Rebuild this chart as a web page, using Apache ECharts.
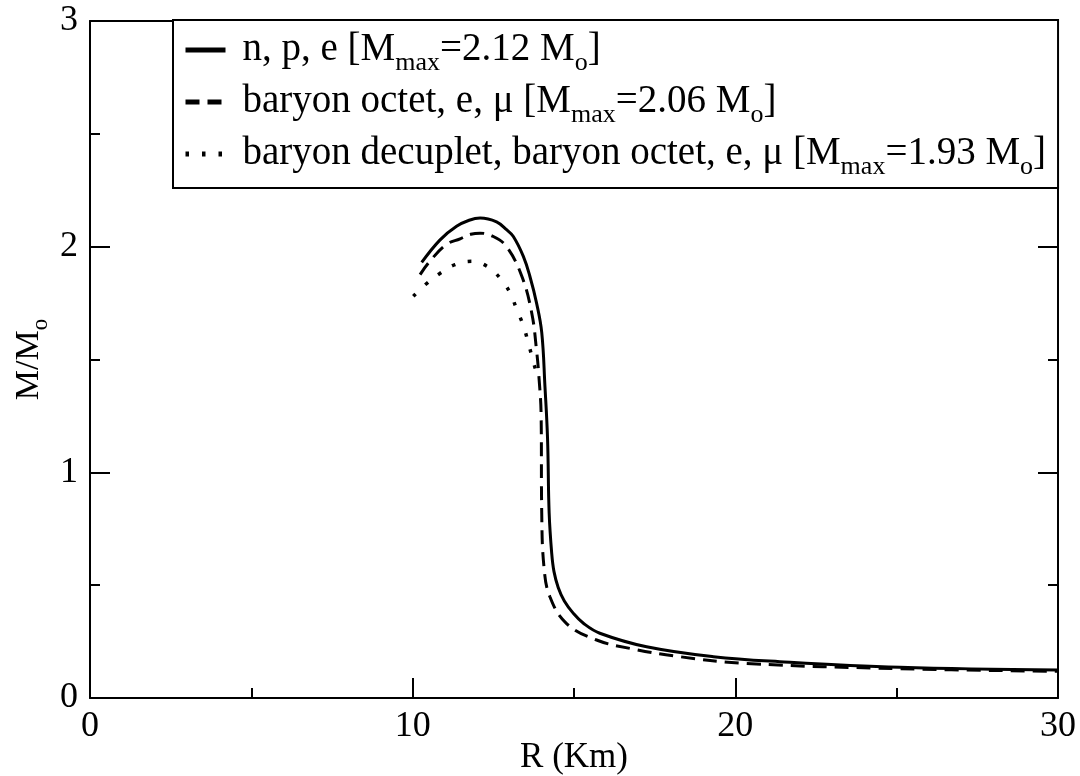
<!DOCTYPE html>
<html lang="en">
  <head>
    <meta charset="UTF-8" />
    <title>Mass-radius relation</title>
    <style>
      html, body {
        margin: 0;
        padding: 0;
        width: 100%;
        height: 100%;
        overflow: hidden;
        background: #fff;
      }
      #chart {
        width: 1080px;
        height: 776px;
      }
    </style>
    <script src="https://cdn.jsdelivr.net/npm/echarts@6/dist/echarts.min.js"></script>
  </head>
  <body>
    <div id="chart"></div>
    <script>
      // series names (legend text, rich subscripts in formatter)
      const names = [
        "n, p, e [Mmax=2.12 Mo]",
        "baryon octet, e, μ [Mmax=2.06 Mo]",
        "baryon decuplet, baryon octet, e, μ [Mmax=1.93 Mo]"
      ];
      const legendRich = [
        "n, p, e [M{sub|max}=2.12 M{sub|o}]",
        "baryon octet, e, μ [M{sub|max}=2.06 M{sub|o}]",
        "baryon decuplet, baryon octet, e, μ [M{sub|max}=1.93 M{sub|o}]"
      ];

      // n, p, e  (radius in km, mass in solar masses)
      const npeR = [10.28, 10.85, 11.36, 11.75, 12.09, 12.6, 12.91, 13.12, 13.43, 13.63, 13.84, 14.0, 14.1, 14.18, 14.23, 14.31, 14.38, 14.51, 14.7, 14.98, 15.3, 15.8, 17.25, 19.32, 21.38, 25.1, 30];
      const npeM = [1.93, 2.03, 2.09, 2.117, 2.127, 2.11, 2.075, 2.045, 1.957, 1.87, 1.75, 1.62, 1.38, 1.15, 0.82, 0.64, 0.56, 0.49, 0.43, 0.375, 0.33, 0.287, 0.227, 0.183, 0.161, 0.136, 0.124];

      // baryon octet, e, mu
      const octR = [10.23, 10.5, 11.05, 11.47, 11.8, 12.09, 12.5, 12.91, 13.38, 13.69, 13.84, 13.92, 13.98, 14.0, 14.07, 14.25, 14.77, 15.7, 16.73, 18.28, 20.35, 25.1, 30];
      const octM = [1.876, 1.93, 2.01, 2.035, 2.055, 2.06, 2.045, 2.0, 1.87, 1.706, 1.54, 1.41, 1.26, 0.82, 0.58, 0.45, 0.33, 0.257, 0.22, 0.183, 0.153, 0.13, 0.118];

      // baryon decuplet + octet, e, mu
      const decR = [10.02, 10.38, 10.83, 11.31, 11.83, 12.34, 12.73, 13.02, 13.22, 13.43, 13.58, 13.72, 13.8];
      const decM = [1.78, 1.83, 1.88, 1.92, 1.935, 1.91, 1.857, 1.795, 1.724, 1.65, 1.576, 1.50, 1.46];

      const xTicks = [0, 10, 20, 30];
      const yTicks = [0, 1, 2, 3];

      const pairs = (r, m) => r.map((v, i) => [v, m[i]]);

      const font = "'Liberation Serif', 'DejaVu Serif', serif";
      const chart = echarts.init(document.getElementById("chart"), null, { renderer: "canvas" });

      const frameAxis = {
        type: "value",
        axisLine: { show: true, onZero: false, lineStyle: { color: "#000", width: 2 } },
        axisTick: { show: true, inside: true, length: 20, lineStyle: { color: "#000", width: 2 } },
        minorTick: { show: true, splitNumber: 2, length: 10, lineStyle: { color: "#000", width: 2 } },
        splitLine: { show: false },
        axisLabel: { show: false }
      };

      const option = {
        animation: false,
        backgroundColor: "#fff",
        color: ["#000", "#000", "#000"],
        grid: { left: 90, right: 22, top: 21, bottom: 78, outerBoundsMode: "none", containLabel: false },
        legend: {
          data: names,
          orient: "vertical",
          left: 173,
          top: 20,
          padding: [4, 12, 8, 10],
          itemGap: 0,
          itemWidth: 40,
          itemHeight: 20,
          align: "left",
          backgroundColor: "#fff",
          borderColor: "#000",
          borderWidth: 2,
          borderRadius: 0,
          lineStyle: { width: 5 },
          itemStyle: { opacity: 0 },
          formatter: function (name) {
            return legendRich[names.indexOf(name)];
          },
          textStyle: {
            fontFamily: font,
            fontSize: 39,
            color: "#000",
            lineHeight: 30,
            padding: [0, 0, 0, 12],
            rich: {
              sub: { fontFamily: font, fontSize: 26, color: "#000", lineHeight: 52, verticalAlign: "bottom" }
            }
          }
        },
        xAxis: [
          Object.assign({}, frameAxis, {
            position: "bottom",
            min: xTicks[0],
            max: xTicks[xTicks.length - 1],
            interval: 10,
            name: "R (Km)",
            nameLocation: "middle",
            nameGap: 42,
            nameMoveOverlap: false,
            nameTextStyle: { fontFamily: font, fontSize: 35, color: "#000" },
            axisLabel: { show: true, fontFamily: font, fontSize: 36, color: "#000", margin: 11 }
          }),
          Object.assign({}, frameAxis, {
            position: "top",
            min: xTicks[0],
            max: xTicks[xTicks.length - 1],
            interval: 10
          })
        ],
        yAxis: [
          Object.assign({}, frameAxis, {
            position: "left",
            min: yTicks[0],
            max: yTicks[yTicks.length - 1],
            interval: 1,
            name: "M/M{sub|o}",
            nameLocation: "middle",
            nameGap: 38,
            nameMoveOverlap: false,
            nameRotate: 90,
            nameTextStyle: {
              fontFamily: font,
              fontSize: 34,
              color: "#000",
              lineHeight: 30,
              rich: {
                sub: { fontFamily: font, fontSize: 23, color: "#000", lineHeight: 46, verticalAlign: "bottom" }
              }
            },
            axisLabel: { show: true, fontFamily: font, fontSize: 36, color: "#000", margin: 12 }
          }),
          Object.assign({}, frameAxis, {
            position: "right",
            min: yTicks[0],
            max: yTicks[yTicks.length - 1],
            interval: 1
          })
        ],
        series: [
          {
            name: names[0],
            type: "line",
            data: pairs(npeR, npeM),
            symbol: "none",
            smooth: 0.4,
            itemStyle: { color: "#000" },
            lineStyle: { color: "#000", width: 3, type: "solid" },
            z: 3
          },
          {
            name: names[1],
            type: "line",
            data: pairs(octR, octM),
            symbol: "none",
            smooth: 0.4,
            itemStyle: { color: "#000" },
            lineStyle: { color: "#000", width: 3, type: [14, 8] },
            z: 2
          },
          {
            name: names[2],
            type: "line",
            data: pairs(decR, decM),
            symbol: "none",
            smooth: 0.4,
            itemStyle: { color: "#000" },
            lineStyle: { color: "#000", width: 3.5, type: [3.5, 13] },
            z: 2
          }
        ]
      };

      chart.setOption(option);
    </script>
  </body>
</html>
